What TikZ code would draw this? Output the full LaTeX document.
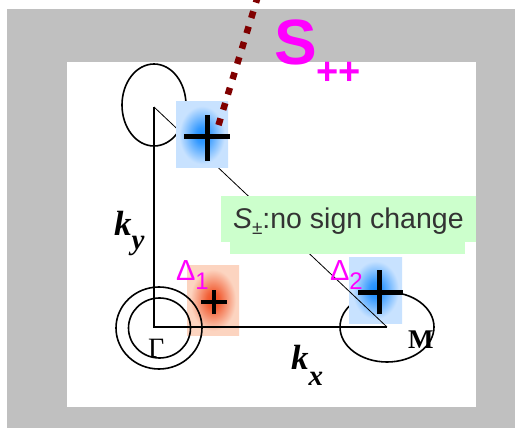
\documentclass[tikz,border=0pt]{standalone}
\usepackage{fontspec}
\setmainfont{Liberation Sans}
\newfontfamily\serifk{Liberation Serif}
\definecolor{graybg}{RGB}{192,192,192}
\definecolor{darkred}{RGB}{128,0,0}
\definecolor{mag}{RGB}{255,0,255}
\definecolor{greenlab}{RGB}{204,255,204}
\definecolor{labtext}{RGB}{51,51,51}
\definecolor{bcore}{RGB}{25,140,255}
\definecolor{bedge}{RGB}{200,226,255}
\definecolor{rcore}{RGB}{240,75,30}
\definecolor{redge}{RGB}{252,212,192}
\pgfdeclareradialshading{blueglow}{\pgfpoint{0bp}{0bp}}{color(0bp)=(bcore); color(6bp)=(bcore!85!bedge); color(22bp)=(bedge); color(50bp)=(bedge)}
\pgfdeclareradialshading{redglow}{\pgfpoint{0bp}{0bp}}{color(0bp)=(rcore); color(6bp)=(rcore!85!redge); color(22bp)=(redge); color(50bp)=(redge)}
\begin{document}
\begin{tikzpicture}[x=1pt,y=-1pt,
  txt/.style={inner sep=0pt, outer sep=0pt},
  curve/.style={line width=1.6pt, black},
  axis/.style={line width=1.8pt, black},
  plusbar/.style={line width=5pt, black},
  smallbar/.style={line width=4.5pt, black},
  deltalab/.style={txt, anchor=base west, text=mag, font=\fontsize{29}{29}\selectfont},
  klab/.style={txt, anchor=base west, font=\serifk\bfseries\itshape\fontsize{35}{35}\selectfont}]
\useasboundingbox (0,0) rectangle (515,428);
\fill[graybg] (7,9) rectangle (515,428);
\fill[white] (67,62) rectangle (476,407);
% points
\coordinate (X) at (154,107);
\coordinate (G) at (154,327);
\coordinate (Mp) at (387,327);
% red box (under circles)
\shade[shading=redglow] (187,265) rectangle (239,335);
% Fermi surfaces
\draw[curve] (154,105) ellipse [x radius=32, y radius=41];
\draw[curve] (159,328) ellipse [x radius=43, y radius=41];
\draw[curve] (159.5,328) ellipse [x radius=31, y radius=30];
\draw[curve] (387,327) ellipse [x radius=47, y radius=35];
% M box
\shade[shading=blueglow] (349,257) rectangle (402,323);
% BZ lines
\draw[axis] (X) -- (G) -- (Mp);
\draw[line width=0.8pt] (X) -- (Mp);
% top blue box
\shade[shading=blueglow] (176,102) rectangle (228,168);
% green label
\fill[greenlab] (221,196) rectangle (476,242);
\fill[greenlab] (230,242) rectangle (465,254);
\node[txt, anchor=base west, text=labtext, font=\fontsize{28.5}{28.5}\selectfont] (lab) at (233,228)
  {{\itshape S}\raisebox{-6pt}{\fontsize{19}{19}\selectfont ±}:no sign change};
% plus signs
\coordinate (p1) at (207,137);
\draw[plusbar] ([xshift=-23pt]p1) -- ([xshift=23pt]p1);
\draw[plusbar] ([yshift=-24pt]p1) -- ([yshift=22pt]p1);
\coordinate (p2) at (379,292);
\draw[plusbar] ([xshift=-21pt]p2) -- ([xshift=24pt]p2);
\draw[plusbar] ([yshift=-22pt]p2) -- ([yshift=22pt]p2);
\coordinate (p3) at (214,302);
\draw[smallbar] ([xshift=-13pt]p3) -- ([xshift=13pt]p3);
\draw[smallbar] ([yshift=-12pt]p3) -- ([yshift=12pt]p3);
% labels
\node[deltalab] (d1) at (176,280) {Δ\raisebox{-9pt}{\fontsize{24}{24}\selectfont 1}};
\node[deltalab] (d2) at (330,280) {Δ\raisebox{-9pt}{\fontsize{24}{24}\selectfont 2}};
\node[klab] (ky) at (114,235) {k\raisebox{-14pt}{\fontsize{29}{29}\selectfont y}};
\node[klab] (kx) at (291,369) {k\raisebox{-16pt}{\fontsize{29}{29}\selectfont x}};
\node[txt, anchor=base west, font=\serifk\bfseries\fontsize{27}{27}\selectfont] (Mlab) at (408,348) {M};
\node[txt, anchor=base west, font=\serifk\fontsize{28}{28}\selectfont] (Glab) at (148,357) {Γ};
% S++ label
\node[txt, anchor=base west, text=mag, font=\bfseries\fontsize{64}{64}\selectfont] (spp) at (274,65)
  {S\raisebox{-20pt}{\fontsize{38}{38}\selectfont ++}};
% dotted connector
\coordinate (dtop) at (258,-4);
\coordinate (dend) at (217,130);
\draw[darkred, line width=6.5pt, dash pattern=on 7pt off 9pt] (dtop) -- (dend);
\end{tikzpicture}
\end{document}
